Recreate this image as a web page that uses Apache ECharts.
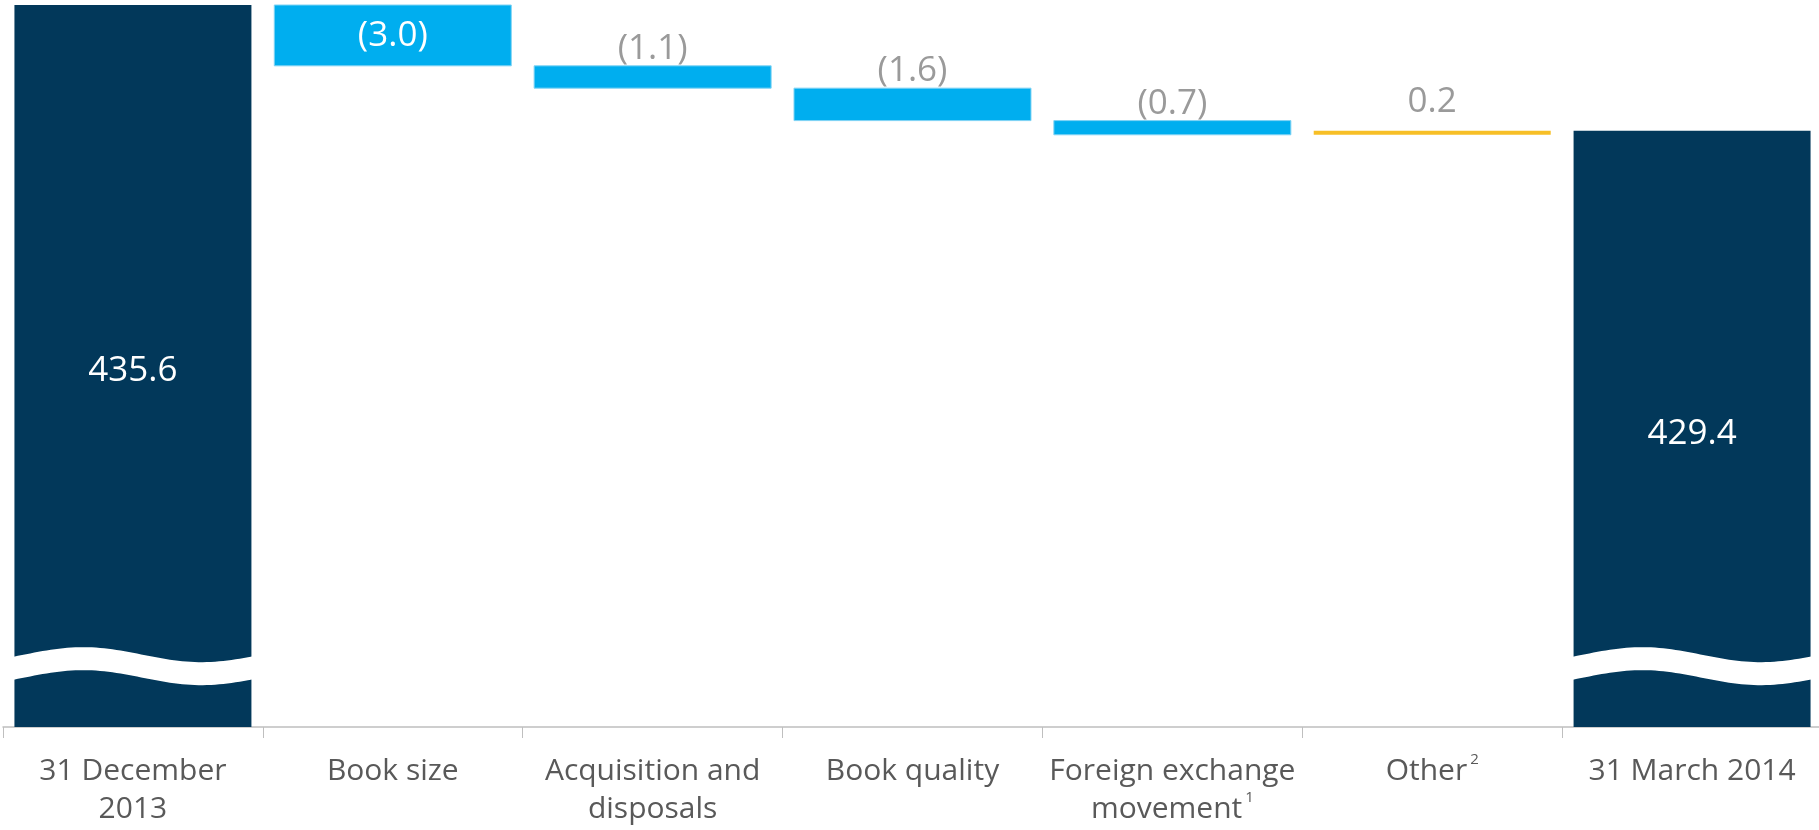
<!DOCTYPE html>
<html>
<head>
<meta charset="utf-8">
<script src="https://cdn.jsdelivr.net/npm/echarts@6/dist/echarts.min.js"></script>
<style>
  html, body { margin: 0; padding: 0; background: #ffffff; overflow: hidden; }
  #chart { width: 1819px; height: 830px; }
</style>
</head>
<body>
<div id="chart"></div>
<script>
// ---- Data ----
const categories = ['31 December\n2013', 'Book size', 'Acquisition and\ndisposals', 'Book quality', 'Foreign exchange\nmovement', 'Other', '31 March 2014'];
const footnotes = ['', '', '', '', '1', '2', ''];
const kinds = ['total', 'change', 'change', 'change', 'change', 'change', 'total'];
const values = [435.6, -3.0, -1.1, -1.6, -0.7, 0.2, 429.4];
const valueLabels = ['435.6', '(3.0)', '(1.1)', '(1.6)', '(0.7)', '0.2', '429.4'];

// ---- Axis configuration ----
const Y_MIN = 400;
const Y_MAX = 435.6;
const BREAK_AT = 403;   // where the axis-break wave is drawn on the total bars

const NAVY = '#02385a';
const BLUE = '#00aeef';
const YELLOW = '#f7bf26';
const FONT = 'Open Sans';

// Build waterfall ranges from the data
const rows = [];
let level = 0;
for (let i = 0; i < values.length; i++) {
  if (kinds[i] === 'total') {
    rows.push([i, Y_MIN, values[i], 0]);
    level = values[i];
  } else {
    const start = level, end = Math.round((level + values[i]) * 10) / 10;
    rows.push([i, Math.min(start, end), Math.max(start, end), values[i] < 0 ? 1 : 2]);
    level = end;
  }
}

const chart = echarts.init(document.getElementById('chart'), null, { renderer: 'canvas' });

function renderItem(params, api) {
  const i = api.value(0);
  const lo = api.value(1);
  const hi = api.value(2);
  const kind = api.value(3);
  const pTop = api.coord([i, hi]);
  const pBot = api.coord([i, lo]);
  const bw = api.size([1, 0])[0] * 0.912;
  const x0 = pTop[0] - bw / 2;
  const top = pTop[1];
  const h = Math.max(pBot[1] - pTop[1], 1);
  const color = kind === 0 ? NAVY : (kind === 1 ? BLUE : YELLOW);
  const children = [{
    type: 'rect',
    shape: { x: x0, y: top, width: bw, height: h },
    style: { fill: color, stroke: kind === 1 ? '#7fd3f4' : null, lineWidth: kind === 1 ? 1 : 0 }
  }];
  const label = valueLabels[i];
  if (kind === 0 || h > 45) {
    children.push({
      type: 'text',
      z2: 10,
      style: {
        text: label, x: pTop[0], y: top + h / 2 + (kind === 0 ? 5 : 1),
        align: 'center', verticalAlign: 'middle',
        fill: '#ffffff', font: '35px "' + FONT + '"'
      }
    });
  } else {
    const ly = kind === 2 ? pBot[1] - 33 : top - 17;
    children.push({
      type: 'text',
      z2: 10,
      style: {
        text: label, x: pTop[0], y: ly,
        align: 'center', verticalAlign: 'middle',
        fill: '#9a9a9a', font: '35px "' + FONT + '"'
      }
    });
  }
  if (kind === 0) {
    // axis-break wave
    const c = api.coord([i, BREAK_AT])[1];
    const N = 60, amp = 7.5, half = 11.5;
    const topPts = [], botPts = [];
    for (let k = 0; k <= N; k++) {
      const t = -0.02 + 1.04 * k / N;
      const x = x0 + t * bw;
      const off = -amp * Math.sin(2 * Math.PI * (t - 0.04));
      topPts.push([x, c - half + off]);
      botPts.push([x, c + half + off]);
    }
    children.push({
      type: 'polygon',
      z2: 5,
      shape: { points: topPts.concat(botPts.reverse()) },
      style: { fill: '#ffffff' }
    });
  }
  return { type: 'group', children: children };
}

const option = {
  backgroundColor: '#ffffff',
  animation: false,
  grid: { left: 3, right: -3, top: 5, bottom: 103, containLabel: false, outerBoundsMode: 'none' },
  xAxis: {
    type: 'category',
    data: categories,
    boundaryGap: true,
    axisLine: { show: true, lineStyle: { color: '#bfbfbf', width: 1.5 } },
    axisTick: { show: true, length: 11, lineStyle: { color: '#bfbfbf', width: 1 } },
    axisLabel: {
      interval: 0,
      margin: 25,
      formatter: function (val, idx) {
        const lines = val.split('\n');
        return lines.map(function (ln, j) {
          let s = '{a|' + ln + '}';
          if (j === lines.length - 1 && footnotes[idx]) s += '{s|' + footnotes[idx] + '}';
          return s;
        }).join('\n');
      },
      rich: {
        a: { fontFamily: FONT, fontSize: 30, color: '#595959', lineHeight: 38 },
        s: { fontFamily: FONT, fontSize: 15, color: '#595959', lineHeight: 28, verticalAlign: 'top', padding: [0, 0, 0, 3] }
      }
    }
  },
  yAxis: {
    type: 'value',
    min: Y_MIN,
    max: Y_MAX,
    show: false,
    splitLine: { show: false }
  },
  series: [{
    type: 'custom',
    renderItem: renderItem,
    data: rows,
    clip: false
  }]
};

chart.setOption(option);
</script>
</body>
</html>
